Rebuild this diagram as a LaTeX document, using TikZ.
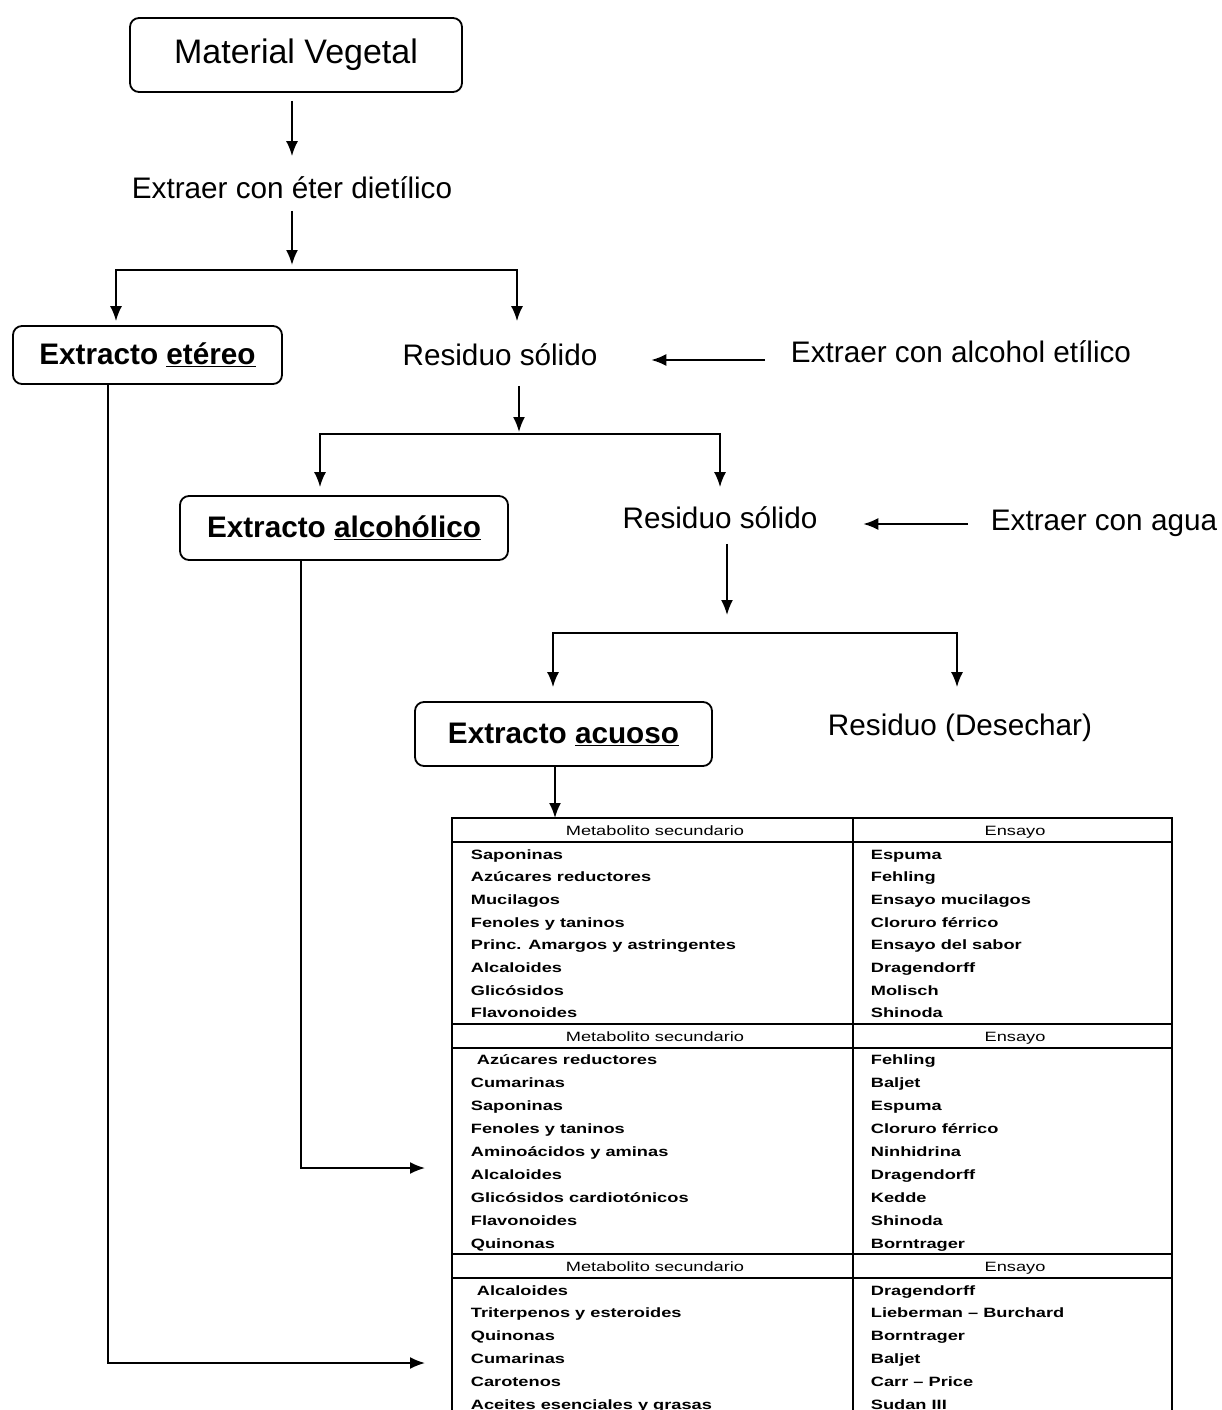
\documentclass[tikz,border=0pt]{standalone}
\usepackage{fontspec}
\setmainfont{Liberation Sans}
\usepackage{graphicx}
\usetikzlibrary{arrows.meta,calc}
\newcommand\sx[1]{\scalebox{1.35}[1]{#1}}
\begin{document}
\begin{tikzpicture}[x=1pt,y=-1pt,line width=1.8pt,
 arr/.style={-{Latex[length=15pt,width=12pt]}},
 box/.style={draw,rounded corners=9pt,line width=1.8pt,inner sep=0},
 lbl/.style={inner sep=0,text height=22pt,text depth=6pt,font=\fontsize{29.7}{34}\selectfont},
 blbl/.style={box,font=\fontsize{29.7}{34}\selectfont\bfseries},
 cell/.style={inner sep=0,anchor=base west,font=\fontsize{13.5}{16}\selectfont\bfseries},
 head/.style={inner sep=0,anchor=base,font=\fontsize{13.5}{16}\selectfont},
 tline/.style={line width=1.8pt}]
\useasboundingbox (0,0) rectangle (1222,1410);
\clip (0,0) rectangle (1222,1410);

% nodes
\node[box,minimum width=332pt,minimum height=74pt,font=\fontsize{34}{40}\selectfont] (mv) at (296,55) {Material Vegetal};
\node[lbl] (ext1) at (292,190) {Extraer con éter dietílico};
\node[blbl,minimum width=269pt,minimum height=58pt] (ete) at (147.5,355) {Extracto \underline{etéreo}};
\node[lbl] (res1) at (500,357) {Residuo sólido};
\node[lbl] (alc1) at (961,354) {Extraer con alcohol etílico};
\node[blbl,minimum width=328pt,minimum height=64pt] (alc) at (344,528) {Extracto \underline{alcohólico}};
\node[lbl] (res2) at (720,520) {Residuo sólido};
\node[lbl] (agua) at (1104,522) {Extraer con agua};
\node[blbl,minimum width=297pt,minimum height=64pt] (acu) at (563.5,734) {Extracto \underline{acuoso}};
\node[lbl] (des) at (960,727) {Residuo (Desechar)};

\coordinate (j1) at (292,270);
\coordinate (j2) at (519,434);
\coordinate (j3) at (727,633);

% connectors
\draw[arr,shorten <=8pt,shorten >=19pt] (mv.south -| ext1) -- (ext1.north);
\draw[arr,shorten <=6pt,shorten >=5pt] (ext1.south) -- (j1);
\draw[arr,shorten >=4pt] (j1) -| (ete.north -| 116,0);
\draw[arr,shorten >=21pt] (j1) -| (res1.north -| 517,0);
\draw[arr,shorten <=25pt,shorten >=53pt] (alc1.west |- 0,360) -- (res1.east |- 0,360);
\draw[arr,shorten <=14pt,shorten >=2pt] (res1.south -| j2) -- (j2);
\draw[arr,shorten >=8pt] (j2) -| (alc.north -| 320,0);
\draw[arr,shorten >=18pt] (j2) -| (res2.north);
\draw[arr,shorten <=22pt,shorten >=45pt] (agua.west |- 0,524) -- (res2.east |- 0,524);
\draw[arr,shorten <=9pt,shorten >=18pt] (res2.south -| j3) -- (j3);
\draw[arr,shorten >=14pt] (j3) -| (acu.north -| 553,0);
\draw[arr,shorten >=25pt] (j3) -| (des.north -| 957,0);

% table
\node[draw,line width=1.8pt,inner sep=0,outer sep=0,minimum width=720pt,minimum height=620pt,anchor=north west] (tab) at (452,818) {};
\draw[tline] (853,818) -- (853,1440);
\foreach \yy in {842,1024,1048,1254,1278} \draw[tline] (452,\yy) -- (1172,\yy);

\draw[arr] (acu.south -| 555,0) -- (tab.north -| 555,0);
\draw[arr,shorten >=27pt] (alc.south -| 301,0) |- (tab.west |- 0,1168);
\draw[arr,shorten >=27pt] (ete.south -| 108,0) |- (tab.west |- 0,1363);

\foreach \yy/\k in {835/1,1041/2,1271/3} {
  \node[head] (hl\k) at (655,\yy) {\sx{Metabolito secundario}};
  \node[head] (hr\k) at (1015,\yy) {\sx{Ensayo}};
}

\foreach \a/\b [count=\i] in {Saponinas/Espuma,Azúcares reductores/Fehling,Mucilagos/Ensayo mucilagos,Fenoles y taninos/Cloruro férrico,Princ. Amargos y astringentes/Ensayo del sabor,Alcaloides/Dragendorff,Glicósidos/Molisch,Flavonoides/Shinoda} {
  \node[cell] (pa\i) at (470,{859+(\i-1)*22.7}) {\sx{\a}};
  \node[cell] (pb\i) at (870,{859+(\i-1)*22.7}) {\sx{\b}};
}
\foreach \a/\b [count=\i] in {Azúcares reductores/Fehling,Cumarinas/Baljet,Saponinas/Espuma,Fenoles y taninos/Cloruro férrico,Aminoácidos y aminas/Ninhidrina,Alcaloides/Dragendorff,Glicósidos cardiotónicos/Kedde,Flavonoides/Shinoda,Quinonas/Borntrager} {
  \node[cell] (qa\i) at ({\i==1 ? 476 : 470},{1064+(\i-1)*23}) {\sx{\a}};
  \node[cell] (qb\i) at (870,{1064+(\i-1)*23}) {\sx{\b}};
}
\foreach \a/\b [count=\i] in {Alcaloides/Dragendorff,Triterpenos y esteroides/Lieberman – Burchard,Quinonas/Borntrager,Cumarinas/Baljet,Carotenos/Carr – Price,Aceites esenciales y grasas/Sudan III} {
  \node[cell] (ra\i) at ({\i==1 ? 476 : 470},{1295+(\i-1)*22.8}) {\sx{\a}};
  \node[cell] (rb\i) at (870,{1295+(\i-1)*22.8}) {\sx{\b}};
}
\end{tikzpicture}
\end{document}
